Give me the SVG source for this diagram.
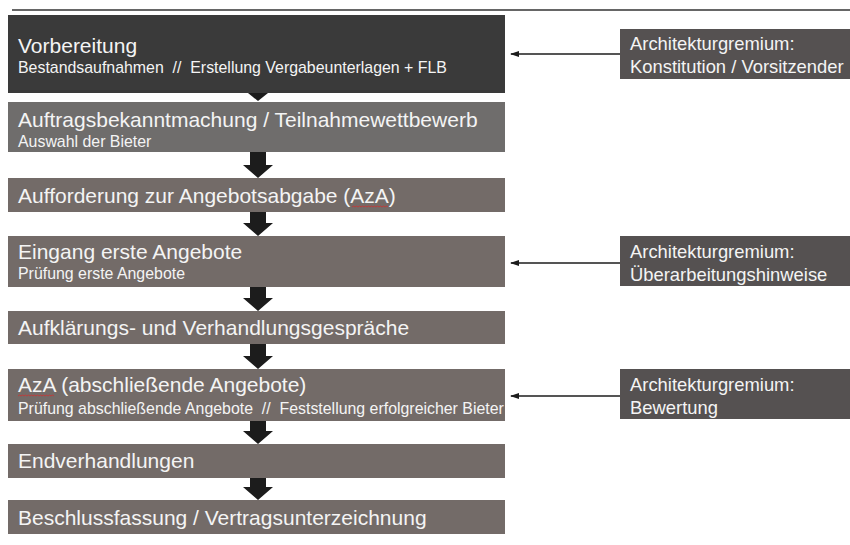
<svg xmlns="http://www.w3.org/2000/svg" width="850" height="545" viewBox="0 0 850 545">
<style>
text{font-family:"Liberation Sans",Arial,sans-serif;fill:#f4f4f4}
.t{font-size:21px}
.s{font-size:15.9px}
.r{font-size:18.4px}
.box{fill:#736b68}
.rb{fill:#555151}
.arr{fill:#1c1c1c}
.ln{stroke:#1c1c1c;stroke-width:1.5;fill:none}
</style>
<defs>
<marker id="ah" markerWidth="10" markerHeight="8" refX="8" refY="4" orient="auto" markerUnits="userSpaceOnUse">
<path d="M0,1 L9,4 L0,7 z" fill="#1c1c1c"/>
</marker>
</defs>
<rect x="0" y="0" width="850" height="545" fill="#ffffff"/>
<line x1="12" y1="10" x2="850" y2="10" stroke="#333" stroke-width="1.5"/>

<g id="connectors">
<polygon class="arr" points="248,93 268,93 258,101"/>
<path class="arr" d="M250,152 H266 V165 H273 L258,178 L243,165 H250 Z"/>
<path class="arr" d="M250,212 H266 V223 H273 L258,236 L243,223 H250 Z"/>
<path class="arr" d="M250,287 H266 V298 H273 L258,311 L243,298 H250 Z"/>
<path class="arr" d="M250,344 H266 V356 H273 L258,369 L243,356 H250 Z"/>
<path class="arr" d="M250,421 H266 V431 H273 L258,444 L243,431 H250 Z"/>
<path class="arr" d="M250,478 H266 V487 H273 L258,500 L243,487 H250 Z"/>
<line class="ln" x1="620" y1="54" x2="511" y2="54" marker-end="url(#ah)"/>
<line class="ln" x1="620" y1="263" x2="511" y2="263" marker-end="url(#ah)"/>
<line class="ln" x1="620" y1="396" x2="511" y2="396" marker-end="url(#ah)"/>
</g>

<g id="n1">
<rect x="8" y="15" width="497" height="78" fill="#3a3a3a"/>
<text class="t" x="18" y="53">Vorbereitung</text>
<text class="s" x="18" y="73" xml:space="preserve">Bestandsaufnahmen  //  Erstellung Vergabeunterlagen + FLB</text>
</g>
<g id="n2">
<rect x="8" y="102" width="497" height="50" fill="#6f6d6c"/>
<text class="t" x="18" y="127">Auftragsbekanntmachung / Teilnahmewettbewerb</text>
<text class="s" x="18" y="147">Auswahl der Bieter</text>
</g>
<g id="n3">
<rect class="box" x="8" y="178" width="497" height="34"/>
<text class="t" x="18" y="203">Aufforderung zur Angebotsabgabe (AzA)</text>
<path d="M352,207 l1.5,-1 l1.5,1 l1.5,-1 l1.5,1 l1.5,-1 l1.5,1 l1.5,-1 l1.5,1 l1.5,-1 l1.5,1 l1.5,-1 l1.5,1 l1.5,-1 l1.5,1 l1.5,-1 l1.5,1 l1.5,-1 l1.5,1 l1.5,-1 l1.5,1 l1.5,-1 l1.5,1 l1.5,-1 l1.5,1" fill="none" stroke="#d03030" stroke-width="0.8"/>
</g>
<g id="n4">
<rect class="box" x="8" y="236" width="497" height="51"/>
<text class="t" x="18" y="259">Eingang erste Angebote</text>
<text class="s" x="18" y="279">Prüfung erste Angebote</text>
</g>
<g id="n5">
<rect class="box" x="8" y="311" width="497" height="33"/>
<text class="t" x="18" y="335">Aufklärungs- und Verhandlungsgespräche</text>
</g>
<g id="n6">
<rect class="box" x="8" y="369" width="497" height="52"/>
<text class="t" x="18" y="392">AzA (abschließende Angebote)</text>
<path d="M18,396 l1.5,-1 l1.5,1 l1.5,-1 l1.5,1 l1.5,-1 l1.5,1 l1.5,-1 l1.5,1 l1.5,-1 l1.5,1 l1.5,-1 l1.5,1 l1.5,-1 l1.5,1 l1.5,-1 l1.5,1 l1.5,-1 l1.5,1 l1.5,-1 l1.5,1 l1.5,-1 l1.5,1 l1.5,-1 l1.5,1" fill="none" stroke="#d03030" stroke-width="0.8"/>
<text class="s" x="18" y="414" xml:space="preserve">Prüfung abschließende Angebote  //  Feststellung erfolgreicher Bieter</text>
</g>
<g id="n7">
<rect class="box" x="8" y="444" width="497" height="34"/>
<text class="t" x="18" y="468">Endverhandlungen</text>
</g>
<g id="n8">
<rect class="box" x="8" y="500" width="497" height="34"/>
<text class="t" x="18" y="525">Beschlussfassung / Vertragsunterzeichnung</text>
</g>

<g id="r1">
<rect class="rb" x="620" y="29" width="230" height="50"/>
<text class="r" x="630" y="50">Architekturgremium:</text>
<text class="r" x="630" y="73">Konstitution / Vorsitzender</text>
</g>
<g id="r2">
<rect class="rb" x="620" y="236" width="230" height="50"/>
<text class="r" x="630" y="258">Architekturgremium:</text>
<text class="r" x="630" y="281">Überarbeitungshinweise</text>
</g>
<g id="r3">
<rect class="rb" x="620" y="369" width="230" height="50"/>
<text class="r" x="630" y="391">Architekturgremium:</text>
<text class="r" x="630" y="414">Bewertung</text>
</g>
</svg>
